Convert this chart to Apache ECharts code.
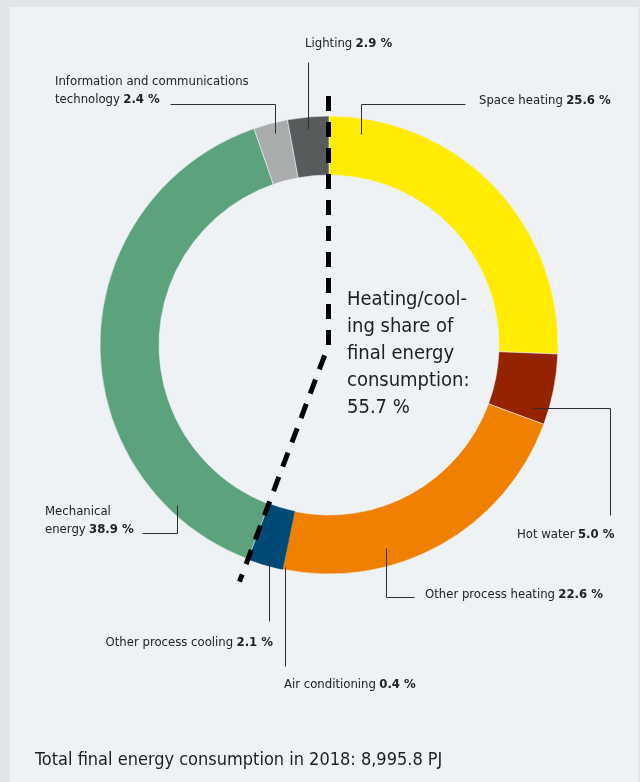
<!DOCTYPE html>
<html>
<head>
<meta charset="utf-8">
<script src="https://cdn.jsdelivr.net/npm/echarts@6/dist/echarts.min.js"></script>
<style>
  html, body { margin: 0; padding: 0; background: #dfe5e9; }
  #chart { width: 640px; height: 782px; }
</style>
</head>
<body>
<div id="chart"></div>
<script>
// ---- Data ----
const categories = [
  'Space heating',
  'Hot water',
  'Other process heating',
  'Air conditioning',
  'Other process cooling',
  'Mechanical\nenergy',
  'Information and communications\ntechnology',
  'Lighting'
];
const shares = [25.6, 5.0, 22.6, 0.4, 2.1, 38.9, 2.4, 2.9];
// first N categories make up the heating/cooling share
const heatingCoolingCount = 5;
const totalYear = 2018;
const totalPJ = '8,995.8';

// ---- Styles / layout ----
const palette = ['#ffec00', '#952200', '#f08000', '#004a75', '#004a75', '#5ca27c', '#a9acac', '#575b5c'];
const FONT = "'Liberation Sans Narrow', 'Arial Narrow', 'DejaVu Sans Condensed', sans-serif";
const CX = 329, CY = 345, R_IN = 170, R_OUT = 229;

const labelPos = [
  { x: 479, y: 101, align: 'left',  line: [[361, 134], [361, 104], [465, 104]] },
  { x: 517, y: 535, align: 'left',  line: [[533, 408], [610, 408], [610, 515]] },
  { x: 425, y: 595, align: 'left',  line: [[386, 548], [386, 597], [414, 597]] },
  { x: 284, y: 685, align: 'left',  line: [[285, 567], [285, 666]] },
  { x: 273, y: 643, align: 'right', line: [[269, 558], [269, 621]] },
  { x: 45,  y: 521, align: 'left',  line: [[142, 533], [177, 533], [177, 505]] },
  { x: 55,  y: 91,  align: 'left',  line: [[170, 104], [275, 104], [275, 133]] },
  { x: 305, y: 44,  align: 'left',  line: [[308, 62], [308, 129]] }
];

const sum = shares.reduce((a, b) => a + b, 0);
const hcShare = shares.slice(0, heatingCoolingCount).reduce((a, b) => a + b, 0);
const hcAngle = hcShare / sum * 2 * Math.PI;
const rTop = 249, rDiag = 253;
const dashPts = [
  [CX - 0.5, CY - rTop],
  [CX - 0.5, CY],
  [CX + rDiag * Math.sin(hcAngle), CY - rDiag * Math.cos(hcAngle)]
];

function fmtLabel(p) {
  const parts = p.name.split('\n');
  const v = shares[p.dataIndex].toFixed(1) + ' %';
  const lines = parts.map(s => '{n|' + s + '}');
  lines[lines.length - 1] += ' {v|' + v + '}';
  return lines.join('\n');
}

const leaderLines = labelPos.map(L => ({
  type: 'polyline', z: 40,
  shape: { points: L.line.map(p => [p[0] + 0.5, p[1] + 0.5]) },
  style: { stroke: '#2e2e2e', lineWidth: 1, fill: null }
}));

const chart = echarts.init(document.getElementById('chart'));
chart.setOption({
  backgroundColor: '#dfe5e9',
  animation: false,
  graphic: [
    { type: 'rect', z: 0, shape: { x: 10, y: 7, width: 628, height: 790 }, style: { fill: '#eef2f5' } }
  ].concat(leaderLines).concat([
    { type: 'polyline', z: 50, shape: { points: dashPts },
      style: { stroke: '#000', lineWidth: 5, lineDash: [15, 11], fill: null, lineJoin: 'round' } },
    { type: 'text', z: 50, left: 347, top: 286,
      style: { text: 'Heating/cool-\ning share of\nfinal energy\nconsumption:\n' + hcShare.toFixed(1) + ' %',
               font: '20px ' + FONT, lineHeight: 27, fill: '#1e1e1e' } },
    { type: 'text', z: 50, left: 35, top: 751,
      style: { text: 'Total final energy consumption in ' + totalYear + ': ' + totalPJ + ' PJ',
               font: '18px ' + FONT, fill: '#1e1e1e' } }
  ]),
  series: [{
    type: 'pie',
    z: 2,
    center: [CX, CY],
    radius: [R_IN, R_OUT],
    startAngle: 90,
    clockwise: true,
    avoidLabelOverlap: false,
    silent: true,
    itemStyle: { borderColor: '#eef2f5', borderWidth: 0.6 },
    label: {
      show: true,
      position: 'outside',
      formatter: fmtLabel,
      color: '#1e1e1e',
      lineHeight: 18,
      rich: {
        n: { fontFamily: FONT, fontSize: 13, color: '#222', lineHeight: 18 },
        v: { fontFamily: FONT, fontSize: 13, fontWeight: 'bold', color: '#222', lineHeight: 18 }
      }
    },
    labelLine: { show: false },
    labelLayout: function (p) {
      const L = labelPos[p.dataIndex];
      return { x: L.x, y: L.y, align: L.align, verticalAlign: 'middle' };
    },
    data: categories.map((c, i) => ({
      name: c, value: shares[i],
      itemStyle: (i === 3 || i === 4)
        ? { color: palette[i], borderColor: palette[i], borderWidth: 0.8 }
        : { color: palette[i] }
    }))
  }]
});
</script>
</body>
</html>
